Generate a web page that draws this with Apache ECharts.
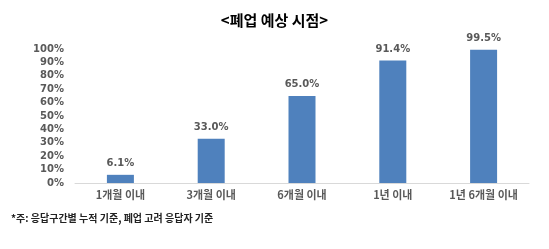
<!DOCTYPE html>
<html><head><meta charset="utf-8">
<script src="https://cdn.jsdelivr.net/npm/echarts@6/dist/echarts.min.js"></script>
<style>html,body{margin:0;padding:0;background:#fff}#c{width:549px;height:249px}</style>
</head><body><div id="c"></div>
<script>
const categories = ['1개월 이내','3개월 이내','6개월 이내','1년 이내','1년 6개월 이내'];
const values = [6.1, 33.0, 65.0, 91.4, 99.5];
const titleText = '<폐업 예상 시점>';
const noteText = '*주: 응답구간별 누적 기준, 폐업 고려 응답자 기준';
const chart = echarts.init(document.getElementById('c'));
chart.setOption({
  animation:false,
  textStyle:{fontFamily:'Noto Sans CJK KR'},
  title:[{text:titleText,left:'center',top:8,textStyle:{fontSize:15,fontWeight:'bold',color:'#000',fontFamily:'Noto Sans CJK KR'}},
         {text:noteText,left:6,top:208,textStyle:{fontSize:10,fontWeight:'bold',color:'#222',fontFamily:'Noto Sans CJK KR'}}],
  grid:{left:75,right:20,top:49,bottom:66,containLabel:false},
  xAxis:{type:'category',data:categories,axisLine:{lineStyle:{color:'#d9d9d9'}},axisTick:{show:false},
    axisLabel:{color:'#595959',fontSize:11,fontWeight:'bold',margin:6}},
  yAxis:{type:'value',min:0,max:100,interval:10,splitLine:{show:false},axisLine:{show:false},axisTick:{show:false},
    axisLabel:{formatter:'{value}%',color:'#595959',fontSize:10,fontWeight:'bold',margin:11,fontFamily:'DejaVu Sans'}},
  series:[{type:'bar',data:values,barWidth:27,itemStyle:{color:'#4f81bd'},
    label:{show:true,position:'top',formatter:p=>p.value.toFixed(1)+'%',color:'#595959',fontSize:10,fontWeight:'bold',fontFamily:'DejaVu Sans',distance:6}}]
});
</script></body></html>
